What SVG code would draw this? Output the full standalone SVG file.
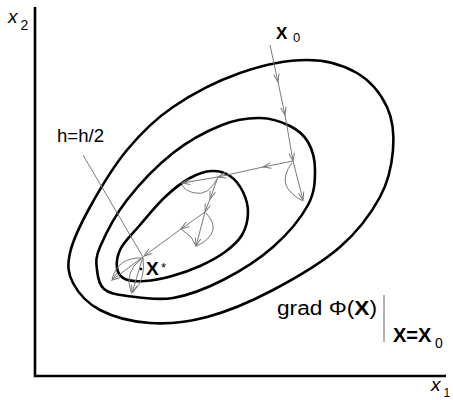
<svg xmlns="http://www.w3.org/2000/svg" width="453" height="400" viewBox="0 0 453 400">
<defs>
<style>
.ax{stroke:#000;stroke-width:2.6;fill:none}
.ct{stroke:#000;stroke-width:2.6;fill:none}
.tr{stroke:#7a7a7a;stroke-width:1;fill:none}
.lab{font-family:"Liberation Sans",Arial,sans-serif;fill:#000}
.b{font-weight:bold}
.it{font-style:italic}
</style>
<marker id="v" markerUnits="userSpaceOnUse" markerWidth="12" markerHeight="10" viewBox="-10 -5 12 10" refX="0" refY="0" orient="auto">
<path d="M-8,-2.8 L0,0 L-8,2.8" fill="none" stroke="#7a7a7a" stroke-width="1"/>
</marker>
</defs>
<rect width="453" height="400" fill="#fff"/>
<g id="axes">
<path class="ax" d="M35,7 L35,376 L446,376"/>
</g>
<g id="contours">
<path id="outer" class="ct" d="M70,253 C72.8,240.3 80.5,224.2 90,207 C99.5,189.8 113.2,166.7 127,150 C140.8,133.3 154.2,119.8 173,107 C191.8,94.2 217.7,80.8 240,73 C262.3,65.2 287.5,60 307,60 C326.5,60 343.7,65.2 357,73 C370.3,80.8 381,94.2 387,107 C393,119.8 394.2,135 393,150 C391.8,165 388.8,180.8 380,197 C371.2,213.2 357.8,231.5 340,247 C322.2,262.5 295.2,278.3 273,290 C250.8,301.7 227.5,311.5 207,317 C186.5,322.5 167.8,324.2 150,323 C132.2,321.8 112.8,316.7 100,310 C87.2,303.3 78,292.5 73,283 C68,273.5 67.2,265.7 70,253 Z"/>
<path id="middle" class="ct" d="M97,270 C96.3,263 95,258.7 100,247 C105,235.3 114.8,215.7 127,200 C139.2,184.3 157.2,165.5 173,153 C188.8,140.5 207.5,130.8 222,125 C236.5,119.2 248.7,117.8 260,118 C271.3,118.2 282,122 290,126 C298,130 303.8,134.7 308,142 C312.2,149.3 315,159.5 315,170 C315,180.5 315,192.2 308,205 C301,217.8 287.2,234.5 273,247 C258.8,259.5 239.7,271.5 223,280 C206.3,288.5 189,295.3 173,298 C157,300.7 138.5,297.5 127,296 C115.5,294.5 109,293.3 104,289 C99,284.7 97.7,277 97,270 Z"/>
<path id="inner" class="ct" d="M117,268 C116.3,262.8 117.2,255.2 121,248 C124.8,240.8 132.7,233.5 140,225 C147.3,216.5 156.7,204.8 165,197 C173.3,189.2 182.2,182.3 190,178 C197.8,173.7 205.3,171.3 212,171 C218.7,170.7 224.8,172.5 230,176 C235.2,179.5 240,185.8 243,192 C246,198.2 248.2,205.8 248,213 C247.8,220.2 245.8,228.5 242,235 C238.2,241.5 232,246.8 225,252 C218,257.2 208.8,262 200,266 C191.2,270 181.2,273.5 172,276 C162.8,278.5 152.8,280.5 145,281 C137.2,281.5 129.7,281.2 125,279 C120.3,276.8 117.7,273.2 117,268 Z"/>
</g>
<g id="trajectory">
<path class="tr" marker-end="url(#v)" d="M270,45 L278,82"/>
<path class="tr" marker-end="url(#v)" d="M278,82 L285,115"/>
<path class="tr" marker-end="url(#v)" d="M285,115 L293,161"/>
<path class="tr" marker-end="url(#v)" d="M293,161 L303,200"/>
<path class="tr" d="M292,163 Q274,186 303,201"/>
<path class="tr" marker-end="url(#v)" d="M293,161 L263,167"/>
<path class="tr" marker-end="url(#v)" d="M263,167 L218,177"/>
<path class="tr" marker-end="url(#v)" d="M218,177 L182,183"/>
<path class="tr" d="M217,179 Q208,196 195,193 Q185,191 182,185"/>
<path class="tr" marker-end="url(#v)" d="M218,177 L210,199"/>
<path class="tr" marker-end="url(#v)" d="M210,199 L205,212"/>
<path class="tr" marker-end="url(#v)" d="M205,212 L196,246"/>
<path class="tr" d="M206,213 Q224,232 197,246"/>
<path class="tr" marker-end="url(#v)" d="M205,212 L181,229"/>
<path class="tr" d="M181,229 L191,237 L196,246"/>
<path class="tr" marker-end="url(#v)" d="M181,229 L144,256"/>
<path class="tr" d="M83,155 L143,257"/>
<path class="tr" marker-end="url(#v)" d="M143,257 L112,280"/>
<path class="tr" d="M142,258 Q118,257 112,279"/>
<path class="tr" marker-end="url(#v)" d="M143,257 L132,293"/>
<path class="tr" d="M143,258 Q146,280 133,292"/>
<path class="tr" d="M141,259 Q124,272 131,292"/>
<circle cx="141" cy="269" r="1.3" fill="#000"/>
</g>
<g id="labels">
<text class="lab it" x="8" y="23" font-size="19">x</text>
<text class="lab" x="20.5" y="29.5" font-size="14">2</text>
<text class="lab it" x="431" y="391" font-size="19">x</text>
<text class="lab" x="443.5" y="396.5" font-size="12">1</text>
<text class="lab b" x="276" y="38.5" font-size="17">X</text>
<text class="lab" x="293" y="42" font-size="13">0</text>
<text class="lab" x="57" y="142" font-size="18" textLength="47" lengthAdjust="spacingAndGlyphs">h=h/2</text>
<text class="lab b" x="146" y="275" font-size="19">X</text>
<text class="lab" x="161" y="272" font-size="13">*</text>
<text class="lab" x="277" y="315" font-size="20" textLength="100" lengthAdjust="spacingAndGlyphs">grad Φ(<tspan class="b">X</tspan>)</text>
<line x1="384" y1="295" x2="384" y2="342" stroke="#999" stroke-width="1.5"/>
<text class="lab b" x="393" y="342" font-size="20">X=X</text>
<text class="lab" x="435" y="348" font-size="14">0</text>
</g>
</svg>
